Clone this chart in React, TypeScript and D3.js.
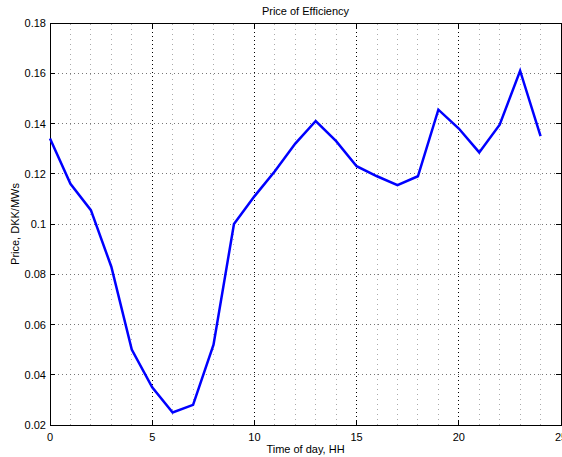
import React, { useRef, useEffect } from 'react';
import * as d3 from 'd3';

const hours = [0, 1, 2, 3, 4, 5, 6, 7, 8, 9, 10, 11, 12, 13, 14, 15, 16, 17, 18, 19, 20, 21, 22, 23, 24];
const prices = [
  0.134, 0.116, 0.1055, 0.083, 0.050, 0.035, 0.025, 0.028, 0.052, 0.100,
  0.111, 0.121, 0.132, 0.141, 0.133, 0.123, 0.119, 0.1155, 0.119, 0.1455,
  0.138, 0.1285, 0.1395, 0.161, 0.135,
];
const xTicks = [0, 5, 10, 15, 20, 25];
const yTicks = [0.02, 0.04, 0.06, 0.08, 0.1, 0.12, 0.14, 0.16, 0.18];
const xMinor = d3.range(1, 25);

const W = 562;
const H = 457;
const margin = { top: 23, right: 1, bottom: 32, left: 50 };

const App: React.FC = () => {
  const ref = useRef<SVGSVGElement>(null);

  useEffect(() => {
    const svg = d3.select(ref.current);
    svg.selectAll('*').remove();

    const x = d3.scaleLinear().domain([0, 25]).range([margin.left, W - margin.right]);
    const y = d3.scaleLinear().domain([0.02, 0.18]).range([H - margin.bottom, margin.top]);
    const font = 'Liberation Sans, Arial, sans-serif';

    svg.append('rect').attr('width', W).attr('height', H).attr('fill', '#fff');

    const g = svg.append('g');

    // minor vertical grid (every hour)
    g.selectAll('.minor')
      .data(xMinor.filter(d => d % 5 !== 0))
      .enter().append('line')
      .attr('x1', d => x(d)).attr('x2', d => x(d))
      .attr('y1', y(0.02)).attr('y2', y(0.18))
      .attr('stroke', '#aaa').attr('stroke-width', 1)
      .attr('stroke-dasharray', '1,4')
      .attr('shape-rendering', 'crispEdges');

    // major vertical grid
    g.selectAll('.vmajor')
      .data(xTicks.slice(1, -1))
      .enter().append('line')
      .attr('x1', d => x(d)).attr('x2', d => x(d))
      .attr('y1', y(0.02)).attr('y2', y(0.18))
      .attr('stroke', '#000').attr('stroke-width', 1)
      .attr('stroke-dasharray', '1,3')
      .attr('shape-rendering', 'crispEdges');

    // horizontal grid
    g.selectAll('.hmajor')
      .data(yTicks.slice(1, -1))
      .enter().append('line')
      .attr('x1', x(0)).attr('x2', x(25))
      .attr('y1', d => y(d)).attr('y2', d => y(d))
      .attr('stroke', '#777').attr('stroke-width', 1)
      .attr('stroke-dasharray', '1,3')
      .attr('shape-rendering', 'crispEdges');

    // box
    g.append('rect')
      .attr('x', x(0)).attr('y', y(0.18))
      .attr('width', x(25) - x(0)).attr('height', y(0.02) - y(0.18))
      .attr('fill', 'none').attr('stroke', '#000').attr('stroke-width', 1)
      .attr('shape-rendering', 'crispEdges');

    // ticks (inside)
    const tl = 5;
    xTicks.forEach(t => {
      g.append('line').attr('x1', x(t)).attr('x2', x(t)).attr('y1', y(0.02)).attr('y2', y(0.02) - tl)
        .attr('stroke', '#000').attr('shape-rendering', 'crispEdges');
      g.append('line').attr('x1', x(t)).attr('x2', x(t)).attr('y1', y(0.18)).attr('y2', y(0.18) + tl)
        .attr('stroke', '#000').attr('shape-rendering', 'crispEdges');
    });
    yTicks.forEach(t => {
      g.append('line').attr('x1', x(0)).attr('x2', x(0) + tl).attr('y1', y(t)).attr('y2', y(t))
        .attr('stroke', '#000').attr('shape-rendering', 'crispEdges');
      g.append('line').attr('x1', x(25)).attr('x2', x(25) - tl).attr('y1', y(t)).attr('y2', y(t))
        .attr('stroke', '#000').attr('shape-rendering', 'crispEdges');
    });

    // tick labels
    g.selectAll('.xl')
      .data(xTicks)
      .enter().append('text')
      .attr('x', d => x(d)).attr('y', y(0.02) + 16)
      .attr('text-anchor', 'middle')
      .attr('font-family', font).attr('font-size', 11)
      .text(d => String(d));

    g.selectAll('.yl')
      .data(yTicks)
      .enter().append('text')
      .attr('x', x(0) - 4).attr('y', d => y(d) + 4)
      .attr('text-anchor', 'end')
      .attr('font-family', font).attr('font-size', 11)
      .text(d => String(+d.toFixed(2)));

    // data line
    const line = d3.line<number>()
      .x((_, i) => x(hours[i]))
      .y(d => y(d));
    g.append('path')
      .datum(prices)
      .attr('d', line)
      .attr('fill', 'none')
      .attr('stroke', '#0000ff')
      .attr('stroke-width', 2.5)
      .attr('stroke-linejoin', 'miter');

    // titles
    svg.append('text')
      .attr('x', (x(0) + x(25)) / 2).attr('y', 15)
      .attr('text-anchor', 'middle')
      .attr('font-family', font).attr('font-size', 11)
      .text('Price of Efficiency');

    svg.append('text')
      .attr('x', (x(0) + x(25)) / 2).attr('y', 453)
      .attr('text-anchor', 'middle')
      .attr('font-family', font).attr('font-size', 11)
      .text('Time of day, HH');

    svg.append('text')
      .attr('transform', `translate(19, ${(y(0.02) + y(0.18)) / 2}) rotate(-90)`)
      .attr('text-anchor', 'middle')
      .attr('font-family', font).attr('font-size', 11)
      .text('Price, DKK/MWs');
  }, []);

  return (
    <svg
      ref={ref}
      width={W}
      height={H}
      style={{ position: 'absolute', left: 0, top: 0, display: 'block' }}
    />
  );
};

export default App;
